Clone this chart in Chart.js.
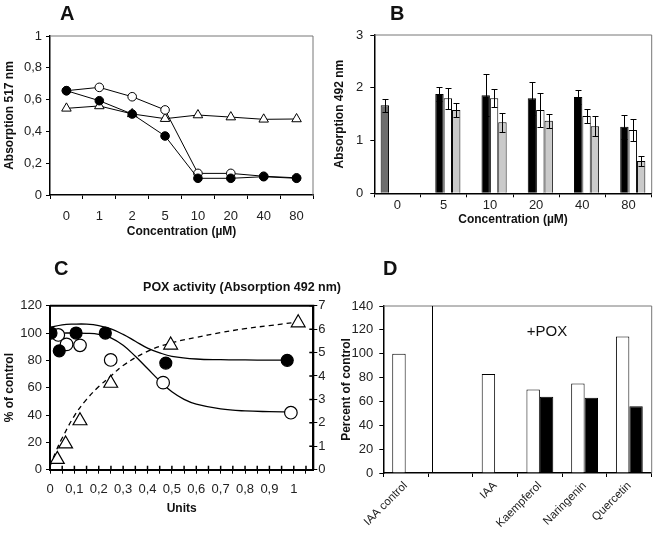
<!DOCTYPE html>
<html>
<head>
<meta charset="utf-8">
<script src="https://cdn.jsdelivr.net/npm/chart.js@4.4.1/dist/chart.umd.min.js"></script>
<style>
  body { margin: 0; background: #fff; width: 655px; height: 538px; position: relative; overflow: hidden;
         font-family: "Liberation Sans", Arial, sans-serif; }
  canvas, .letter { position: absolute; }
  .letter { font-weight: bold; font-size: 20px; color: #111; }
</style>
</head>
<body>
<canvas id="chartA" width="330" height="270" style="left:0;top:0"></canvas>
<canvas id="chartB" width="325" height="270" style="left:330px;top:0"></canvas>
<canvas id="chartC" width="345" height="268" style="left:0;top:270px"></canvas>
<canvas id="chartD" width="325" height="268" style="left:330px;top:270px"></canvas>
<div class="letter" style="left:60px;top:2px">A</div>
<div class="letter" style="left:390px;top:2px">B</div>
<div class="letter" style="left:54px;top:257px">C</div>
<div class="letter" style="left:383px;top:257px">D</div>
<script>
// ----- Panel A: absorption 517 nm -----
const concA = ['0', '1', '2', '5', '10', '20', '40', '80']
const filledA = [0.656, 0.593, 0.509, 0.371, 0.105, 0.105, 0.115, 0.105]
const openA = [0.656, 0.677, 0.618, 0.535, 0.136, 0.136, 0.118, 0.108]
const triangleA = [0.545, 0.56, 0.51, 0.48, 0.503, 0.49, 0.476, 0.478]

// ----- Panel B: absorption 492 nm with error bars -----
const concB = ['0', '5', '10', '20', '40', '80']
const controlB = [1.67, null, null, null, null, null]
const controlErrB = [0.125, null, null, null, null, null]
const blackB = [null, 1.88, 1.86, 1.8, 1.825, 1.26]
const blackErrB = [null, 0.14, 0.4, 0.31, 0.13, 0.23]
const whiteB = [null, 1.8, 1.8, 1.58, 1.465, 1.2]
const whiteErrB = [null, 0.2, 0.17, 0.32, 0.14, 0.21]
const greyB = [null, 1.58, 1.345, 1.376, 1.27, 0.61]
const greyErrB = [null, 0.14, 0.18, 0.13, 0.19, 0.1]

// ----- Panel C: % of control vs units, POX activity on right axis -----
const filledCX = [0.004, 0.038, 0.107, 0.227, 0.475, 0.973]
const filledCY = [100, 87, 100, 100, 78, 80]
const openCX = [0.034, 0.068, 0.123, 0.249, 0.464, 0.988]
const openCY = [98.6, 91.7, 91, 80.3, 63.7, 41.7]
const triCX = [0.03, 0.064, 0.123, 0.249, 0.495, 1.018]
const triCY = [0.44, 1.1, 2.09, 3.69, 5.32, 6.27]
// fitted curves
const fitFilledX = [0, 0.05, 0.1, 0.15, 0.2, 0.25, 0.3, 0.35, 0.4, 0.45, 0.5, 0.6, 0.7, 0.8, 0.9, 0.973]
const fitFilledY = [104, 106, 106.5, 106.5, 105.5, 103, 99, 94, 89, 85.5, 83, 81, 80.5, 80.3, 80.2, 80.2]
const fitOpenX = [0, 0.05, 0.1, 0.15, 0.2, 0.25, 0.3, 0.35, 0.4, 0.45, 0.5, 0.55, 0.6, 0.7, 0.8, 0.9, 0.988]
const fitOpenY = [100, 100, 100, 99.8, 99, 96.5, 91, 83, 74, 65, 57, 51.5, 48, 44.5, 43, 42.5, 42.3]
const fitTriX = [0, 0.025, 0.05, 0.1, 0.15, 0.2, 0.25, 0.3, 0.4, 0.5, 0.6, 0.7, 0.8, 0.9, 1.0]
const fitTriY = [0.15, 0.8, 1.35, 2.3, 3.0, 3.55, 4.0, 4.45, 5.05, 5.42, 5.65, 5.85, 6.02, 6.15, 6.28]

// ----- Panel D: percent of control -----
const labelsD = ['IAA control', '', 'IAA', 'Kaempferol', 'Naringenin', 'Quercetin']
const whiteD = [100, null, 83, 70, 75, 114.5]
const blackD = [null, null, null, 64, 63, 56]

const FONT = '"Liberation Sans", Arial, sans-serif'
Chart.defaults.font.family = FONT
Chart.defaults.color = '#222'
Chart.defaults.animation = false

const comma = v => String(Math.round(v * 100) / 100).replace('.', ',')
const fixW = w => s => { s.width = w; s.paddingTop = 0; s.paddingBottom = 0 }
const fixH = h => s => { s.height = h; s.paddingLeft = 0; s.paddingRight = 0 }
const toPoints = (xs, ys) => xs.map((x, i) => ({ x, y: ys[i] }))
const axisTitle = (text, padding) => ({ display: true, text, color: '#111', font: { size: 12, weight: 'bold' }, padding })
const tickMarks = (extra = {}) => ({ drawOnChartArea: false, color: '#000', tickLength: 4, ...extra })
const tickFont = { size: 13 }
const noLegend = { legend: { display: false }, tooltip: { enabled: false } }

// top / right edge of the plot box
function frame(color, width) {
  return {
    id: 'frame',
    afterDatasetsDraw(chart) {
      const { ctx, chartArea: { left, right, top, bottom } } = chart
      ctx.save()
      ctx.strokeStyle = color
      ctx.lineWidth = width
      ctx.beginPath()
      ctx.moveTo(left, top)
      ctx.lineTo(right, top)
      ctx.lineTo(right, bottom)
      ctx.stroke()
      ctx.restore()
    }
  }
}

// short tick marks pointing into the plot (panel C crosses its axes)
const innerTicks = {
  id: 'innerTicks',
  afterDatasetsDraw(chart) {
    const { ctx, chartArea, scales: { x, y2 } } = chart
    ctx.save()
    ctx.strokeStyle = '#000'
    ctx.lineWidth = 1.5
    ctx.beginPath()
    x.ticks.forEach(t => {
      const px = x.getPixelForValue(t.value)
      ctx.moveTo(px, chartArea.bottom)
      ctx.lineTo(px, chartArea.bottom - 4)
    })
    y2.ticks.forEach(t => {
      const py = y2.getPixelForValue(t.value)
      ctx.moveTo(chartArea.right, py)
      ctx.lineTo(chartArea.right - 4, py)
    })
    ctx.stroke()
    ctx.restore()
  }
}

function errorBars(errs) {
  return {
    id: 'errorBars',
    afterDatasetsDraw(chart) {
      const { ctx } = chart
      const yScale = chart.scales.y
      ctx.save()
      ctx.strokeStyle = '#000'
      ctx.lineWidth = 1
      errs.forEach((err, i) => {
        const vals = chart.data.datasets[i].data
        chart.getDatasetMeta(i).data.forEach((bar, j) => {
          if (vals[j] == null || err[j] == null) return
          const top = Math.round(yScale.getPixelForValue(vals[j] + err[j])) + 0.5
          const bot = Math.round(yScale.getPixelForValue(vals[j] - err[j])) + 0.5
          const x = Math.round(bar.x) + 0.5
          ctx.beginPath()
          ctx.moveTo(x, top); ctx.lineTo(x, bot)
          ctx.moveTo(x - 3, top); ctx.lineTo(x + 3, top)
          ctx.moveTo(x - 3, bot); ctx.lineTo(x + 3, bot)
          ctx.stroke()
        })
      })
      ctx.restore()
    }
  }
}

// ----- A -----
const markerA = { borderColor: '#000', borderWidth: 1, pointBorderColor: '#000', pointBorderWidth: 1, tension: 0 }
new Chart(document.getElementById('chartA'), {
  type: 'line',
  data: {
    labels: concA,
    datasets: [
      { ...markerA, data: filledA, pointStyle: 'circle', pointRadius: 4.3, pointBackgroundColor: '#000' },
      { ...markerA, data: openA, pointStyle: 'circle', pointRadius: 4.3, pointBackgroundColor: '#fff' },
      { ...markerA, data: triangleA, pointStyle: 'triangle', pointRadius: 5.5, pointBackgroundColor: '#fff' },
    ],
  },
  options: {
    responsive: false,
    layout: { padding: { left: 0, right: 17, top: 36, bottom: 31.1 } },
    plugins: noLegend,
    scales: {
      x: {
        offset: true,
        grid: tickMarks({ offset: true }),
        border: { color: '#000', width: 1.5 },
        ticks: { font: tickFont, padding: 9.4 },
        title: axisTitle('Concentration (µM)', 0),
        afterFit: fixH(43.9),
      },
      y: {
        min: 0, max: 1,
        grid: tickMarks(),
        border: { color: '#000', width: 1.5 },
        ticks: { stepSize: 0.2, font: tickFont, padding: 4, callback: comma },
        title: axisTitle('Absorption 517 nm', { top: 2.4, bottom: 0 }),
        afterFit: fixW(50),
      },
    },
  },
  plugins: [frame('#777', 1)],
})

// ----- B -----
const barB = { borderColor: '#000', borderWidth: 1, categoryPercentage: 0.725, barPercentage: 1 }
new Chart(document.getElementById('chartB'), {
  type: 'bar',
  data: {
    labels: concB,
    datasets: [
      { ...barB, data: controlB, backgroundColor: '#6e6e6e' },
      { ...barB, data: blackB, backgroundColor: '#000' },
      { ...barB, data: whiteB, backgroundColor: '#fff' },
      { ...barB, data: greyB, backgroundColor: '#cacaca' },
    ],
  },
  options: {
    responsive: false,
    layout: { padding: { left: 0, right: 3.3, top: 35, bottom: 42.8 } },
    plugins: noLegend,
    scales: {
      x: {
        grid: tickMarks({ offset: true }),
        border: { color: '#000', width: 1.5 },
        ticks: { font: tickFont, padding: 0.5 },
        title: axisTitle('Concentration (µM)', 0),
        afterFit: fixH(33.9),
      },
      y: {
        min: 0, max: 3,
        grid: tickMarks(),
        border: { color: '#000', width: 1.5 },
        ticks: { stepSize: 1, font: tickFont, padding: 7 },
        title: axisTitle('Absorption 492 nm', { top: 2.1, bottom: 0 }),
        afterFit: fixW(44.3),
      },
    },
  },
  plugins: [frame('#777', 1), errorBars([controlErrB, blackErrB, whiteErrB, greyErrB])],
})

// ----- C -----
const pointC = { showLine: false, pointBorderColor: '#000', pointBorderWidth: 1.2 }
const curveC = { borderColor: '#000', borderWidth: 1.3, pointRadius: 0, tension: 0.4, fill: false }
new Chart(document.getElementById('chartC'), {
  type: 'line',
  data: {
    datasets: [
      { ...pointC, data: toPoints(filledCX, filledCY), pointStyle: 'circle', pointRadius: 6, pointBackgroundColor: '#000' },
      { ...pointC, data: toPoints(openCX, openCY), pointStyle: 'circle', pointRadius: 6.3, pointBackgroundColor: '#fff' },
      { ...pointC, data: toPoints(triCX, triCY), pointStyle: 'triangle', pointRadius: 8, pointBackgroundColor: '#fff', yAxisID: 'y2' },
      { ...curveC, data: toPoints(fitFilledX, fitFilledY) },
      { ...curveC, data: toPoints(fitOpenX, fitOpenY) },
      { ...curveC, data: toPoints(fitTriX, fitTriY), borderDash: [5, 4], yAxisID: 'y2' },
    ],
  },
  options: {
    responsive: false,
    layout: { padding: { left: 0, right: 4, top: 0, bottom: 22.5 } },
    plugins: {
      ...noLegend,
      title: {
        display: true, text: 'POX activity (Absorption 492 nm)', align: 'end', color: '#111',
        font: { size: 12.5, weight: 'bold' }, padding: { top: 10.5, bottom: 10.2 },
      },
    },
    scales: {
      x: {
        type: 'linear', min: 0, max: 1.08,
        grid: tickMarks(),
        border: { color: '#000', width: 2 },
        ticks: {
          stepSize: 0.05, includeBounds: false, autoSkip: false, maxRotation: 0, font: tickFont, padding: 8.4,
          callback: v => (Math.round(v * 100) % 10 === 0 ? comma(v) : ''),
        },
        title: axisTitle('Units', 0),
        afterFit: fixH(45.8),
      },
      y: {
        min: 0, max: 120,
        grid: tickMarks(),
        border: { color: '#000', width: 2 },
        ticks: { stepSize: 20, font: tickFont, padding: 4 },
        title: axisTitle('% of control', { top: 2.1, bottom: 0 }),
        afterFit: fixW(50),
      },
      y2: {
        position: 'right', min: 0, max: 7,
        grid: tickMarks(),
        border: { color: '#000', width: 2 },
        ticks: { stepSize: 1, font: tickFont, padding: 1 },
        afterFit: fixW(27.7),
      },
    },
  },
  plugins: [frame('#000', 2), innerTicks],
})

// ----- D -----
const separatorAt = 0.58
const poxLabel = '+POX'
const poxLabelAt = [3.16, 118]
const poxPlugin = {
  id: 'pox',
  afterDatasetsDraw(chart) {
    const { ctx, chartArea, scales: { x, y } } = chart
    const sx = Math.round(x.getPixelForValue(separatorAt)) + 0.5
    ctx.save()
    ctx.strokeStyle = '#000'
    ctx.lineWidth = 1
    ctx.beginPath()
    ctx.moveTo(sx, chartArea.top)
    ctx.lineTo(sx, chartArea.bottom)
    ctx.stroke()
    ctx.font = '15px ' + FONT
    ctx.fillStyle = '#111'
    ctx.textAlign = 'center'
    ctx.textBaseline = 'middle'
    ctx.fillText(poxLabel, x.getPixelForValue(poxLabelAt[0]), y.getPixelForValue(poxLabelAt[1]))
    ctx.restore()
  }
}
const barD = { borderColor: '#000', borderWidth: 1, categoryPercentage: 0.6, barPercentage: 1 }
new Chart(document.getElementById('chartD'), {
  type: 'bar',
  data: {
    labels: labelsD,
    datasets: [
      { ...barD, data: whiteD, backgroundColor: '#fff' },
      { ...barD, data: blackD, backgroundColor: '#000' },
    ],
  },
  options: {
    responsive: false,
    layout: { padding: { left: 0, right: 3.3, top: 36, bottom: 0 } },
    plugins: noLegend,
    scales: {
      x: {
        grid: tickMarks({ offset: true }),
        border: { color: '#000', width: 1.5 },
        ticks: { font: { size: 11.5 }, minRotation: 45, maxRotation: 45, autoSkip: false, padding: 2 },
        afterFit: fixH(65),
      },
      y: {
        min: 0, max: 140,
        grid: tickMarks(),
        border: { color: '#000', width: 1.5 },
        ticks: { stepSize: 20, font: tickFont, padding: 6 },
        title: axisTitle('Percent of control', { top: 9.5, bottom: 0 }),
        afterFit: fixW(53.3),
      },
    },
  },
  plugins: [frame('#777', 1), poxPlugin],
})
</script>
</body>
</html>
